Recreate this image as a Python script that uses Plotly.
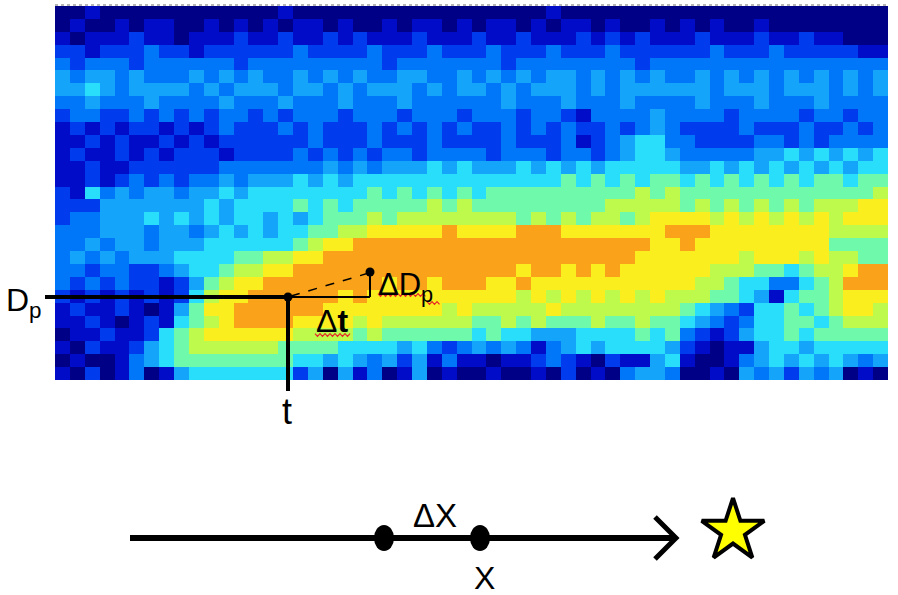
import plotly.graph_objects as go

# ---------------- data ----------------
# Heatmap levels 0..9 (0 = lowest concentration, 9 = highest), one string per
# size bin from the top (largest) row to the bottom row, 56 time columns each,
# written in 4 groups of 14 columns for readability.
LEVEL_ROWS = [
    "00100000000000 01000000000000 00000100000000 00000000000000",
    "01001011001010 10110100101101 01101011010010 10100100000000",
    "10111211011121 12112121112111 21121112121211 12111211211000",
    "22122232212222 22322223222322 23222322232222 22322232222211",
    "32333233333323 33333333233333 33233333333233 33333333333333",
    "43443433343434 33434343344334 34343443434343 34343434343434",
    "44543444434344 43443434443434 43434443434444 44344434443434",
    "33433343333433 34333433343333 33433343334333 34333433343333",
    "23322323232332 32333233323332 33323321333343 33323333233233",
    "12121221212322 23232223232323 22323232232343 22223222322323",
    "11212112121222 22232223222322 22322231234553 32222332323333",
    "12112121222122 22323232332333 32333233234554 33333445454545",
    "11211222222333 33334343444545 44454545455555 44545454545455",
    "11212323233434 44545455555555 55555565656566 56565656566566",
    "21534344344545 55555556565656 56666666666767 66666666666667",
    "22244444445455 55656566666767 66666666677777 67676767677788",
    "23344454545455 45456667677777 77767676776788 88787878787888",
    "33344434434545 45566778888898 88899988888889 99888888887777",
    "33434434445555 55678899999999 99999999999988 98888888886666",
    "34343444555566 77889999999999 99999999999888 88887888787766",
    "33233223455677 88999999999999 99989989898888 88777665677899",
    "32323221246788 99999999899899 98898888888888 87765533567999",
    "21212121257889 99999898888888 88878787878787 77665415667888",
    "12112101468899 99998888888878 77777877777777 65432556567887",
    "11210121567899 99888878777777 66767666766766 54323556656777",
    "01121125678888 88777767666666 56554445555656 32124556566666",
    "10211245677777 76666555545323 43431345455554 21011455455555",
    "01001345666666 66554543424131 10112321021145 10013454545434",
    "10201301455555 55240413014010 01001020103443 00104342434010",
]
TIME_INDEX = list(range(56))
SIZE_BIN_INDEX = list(range(len(LEVEL_ROWS)))

# diagram labels
LABEL_DP = "D<sub>p</sub>"
LABEL_T = "t"
LABEL_DDP = "\u0394D<sub>p</sub>"
LABEL_DT = "\u0394<b>t</b>"
LABEL_DX = "\u0394X"
LABEL_X = "X"

# ---------------- build ----------------
Z = [[int(c) for c in row.replace(" ", "")] for row in LEVEL_ROWS]

W, H = 898, 595
LEVEL_COLORS = ["rgb(0,0,135)", "rgb(0,12,200)", "rgb(0,60,238)", "rgb(0,118,248)",
                "rgb(20,165,250)", "rgb(40,222,250)", "rgb(110,250,170)",
                "rgb(190,250,75)", "rgb(250,238,30)", "rgb(250,162,25)"]
SCALE = [[i / 9, c] for i, c in enumerate(LEVEL_COLORS)]
FONT = "Liberation Sans, Arial, sans-serif"

fig = go.Figure()
fig.add_trace(go.Heatmap(
    x=TIME_INDEX, y=SIZE_BIN_INDEX, z=Z,
    colorscale=SCALE, zmin=0, zmax=9, showscale=False, zsmooth=False,
    hoverinfo="skip", xaxis="x", yaxis="y",
))

# star (target) on overlay pixel axes
fig.add_trace(go.Scatter(
    x=[733], y=[531], mode="markers", xaxis="x2", yaxis="y2",
    marker=dict(symbol="star", size=47, color="rgb(255,255,0)",
                line=dict(color="black", width=4)),
    hoverinfo="skip", showlegend=False,
))

def line(x0, y0, x1, y1, w, dash="solid", color="black"):
    return dict(type="line", xref="x2", yref="y2", x0=x0, y0=y0, x1=x1, y1=y1,
                line=dict(color=color, width=w, dash=dash))

def dot(cx, cy, rx, ry):
    return dict(type="circle", xref="x2", yref="y2", x0=cx - rx, x1=cx + rx,
                y0=cy - ry, y1=cy + ry, fillcolor="black", line=dict(width=0))

def wavy(xa, xb, y, amp=1.4, step=2.5):
    pts = []
    x = xa
    k = 0
    while x <= xb:
        pts.append(f"{x:.1f},{y + (amp if k % 2 else -amp):.1f}")
        x += step
        k += 1
    return dict(type="path", xref="x2", yref="y2", path="M " + " L ".join(pts),
                line=dict(color="rgb(230,40,40)", width=1.2))

shapes = [
    line(55, 5, 888, 5, 1, "dot", "rgb(110,110,110)"),
    line(45, 297, 288, 297, 4),
    line(288, 297, 288, 391, 4),
    line(288, 297, 370, 297, 2),
    line(370, 297, 370, 272, 2),
    line(291, 296, 369, 273, 1.5, "dash"),
    dot(288, 297, 4.5, 4.5),
    dot(370, 272, 4.5, 4.5),
    wavy(378, 426, 295),
    wavy(427, 441, 303),
    wavy(315, 350, 335),
    # bottom trajectory
    line(130, 538, 674, 538, 6),
    dict(type="path", xref="x2", yref="y2", path="M 655,517 L 676,538 L 655,559",
         line=dict(color="black", width=5)),
    dot(384, 538, 10, 13),
    dot(480, 538, 10, 13),
]

ann = [
    dict(text=LABEL_DP, x=4, y=302, xanchor="left", yanchor="middle", font=dict(size=32)),
    dict(text=LABEL_T, x=287, y=411, xanchor="center", yanchor="middle", font=dict(size=36)),
    dict(text=LABEL_DDP, x=376, y=287, xanchor="left", yanchor="middle", font=dict(size=31)),
    dict(text=LABEL_DT, x=314, y=321, xanchor="left", yanchor="middle", font=dict(size=32)),
    dict(text=LABEL_DX, x=435, y=515, xanchor="center", yanchor="middle", font=dict(size=33)),
    dict(text=LABEL_X, x=484, y=578, xanchor="center", yanchor="middle", font=dict(size=32)),
]
for a in ann:
    a.update(xref="x2", yref="y2", showarrow=False)
    a["font"].update(family=FONT, color="black")

fig.update_layout(
    width=W, height=H, margin=dict(l=0, r=0, t=0, b=0),
    paper_bgcolor="white", plot_bgcolor="rgba(0,0,0,0)", showlegend=False,
    xaxis=dict(domain=[55 / W, 888 / W], range=[-0.5, 55.5], showgrid=False,
               zeroline=False, showticklabels=False, ticks=""),
    yaxis=dict(domain=[1 - 380 / H, 1 - 6 / H], range=[28.5, -0.5], showgrid=False,
               zeroline=False, showticklabels=False, ticks=""),
    xaxis2=dict(domain=[0, 1], range=[0, W], anchor="y2", visible=False, fixedrange=True),
    yaxis2=dict(domain=[0, 1], range=[H, 0], anchor="x2", visible=False, fixedrange=True),
    shapes=shapes, annotations=ann,
)

fig.write_html(
    "out.html",
    config={"displayModeBar": False},
    post_script="document.body.style.margin='0';document.body.style.overflow='hidden';",
)
